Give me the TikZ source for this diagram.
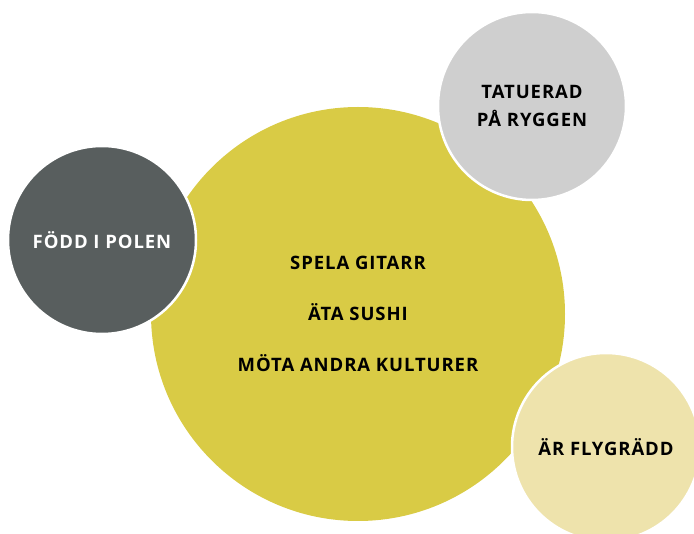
\documentclass[tikz,border=0pt]{standalone}
\usepackage{fontspec}
\newfontfamily\bubblefont{Open Sans}[LetterSpace=5]
\usepackage{tikz}
\definecolor{mustard}{RGB}{217,203,69}
\definecolor{slate}{RGB}{88,94,94}
\definecolor{silver}{RGB}{207,207,207}
\definecolor{cream}{RGB}{238,227,172}

\begin{document}
\begin{tikzpicture}[x=1pt,y=-1pt,
		bubble/.style={circle,inner sep=0pt,draw=white,line width=2.5pt,align=center,
			font=\bubblefont\bfseries\fontsize{18.5}{28}\selectfont}]
			\useasboundingbox (0,0) rectangle (694,534);
			\node[bubble,fill=mustard,draw=none,minimum size=414pt,
				font=\bubblefont\bfseries\fontsize{18.5}{51}\selectfont] (hobby) at (358,314)
				{SPELA GITARR\\ÄTA SUSHI\\MÖTA ANDRA KULTURER};
			\node[bubble,fill=slate,text=white,minimum size=188pt] (birth) at (102,240) {FÖDD I POLEN};
			\node[bubble,fill=silver,minimum size=188pt] (tattoo) at (532,106) {TATUERAD\\PÅ RYGGEN};
			\node[bubble,fill=cream,minimum size=188pt] (fear) at (606,447) {ÄR FLYGRÄDD};
		\end{tikzpicture}
\end{document}
